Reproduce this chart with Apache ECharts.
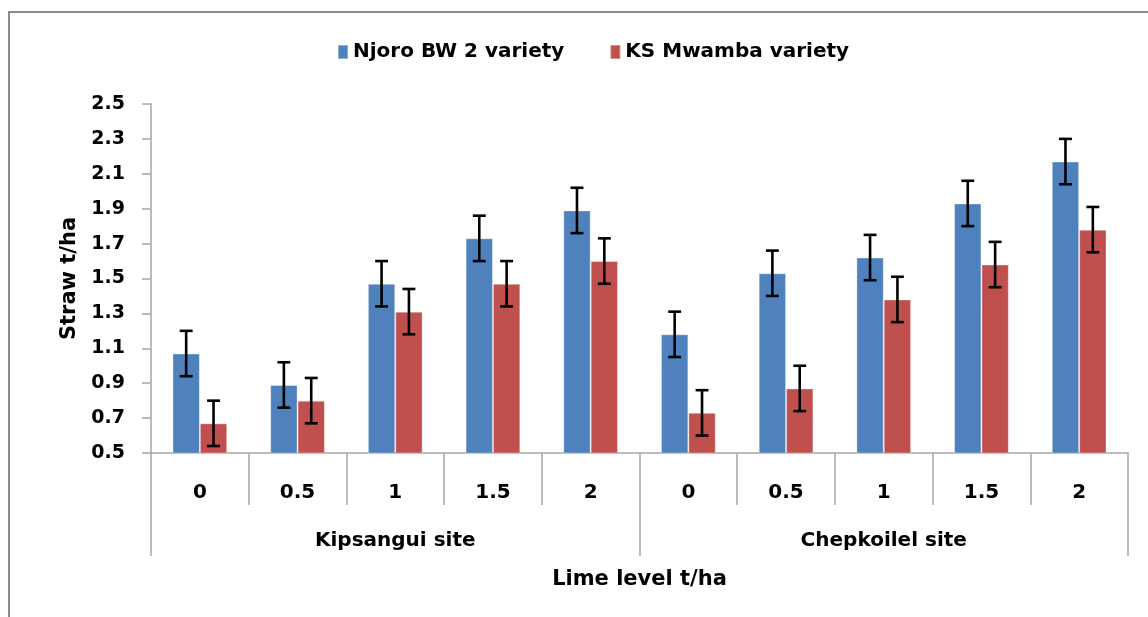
<!DOCTYPE html>
<html>
<head>
<meta charset="utf-8">
<script src="https://cdn.jsdelivr.net/npm/echarts@6/dist/echarts.min.js"></script>
<style>
html,body{margin:0;padding:0;background:#fff;}
#chart{width:1148px;height:617px;}
</style>
</head>
<body>
<div id="chart"></div>
<script>
const limeLevels = ['0', '0.5', '1', '1.5', '2', '0', '0.5', '1', '1.5', '2'];
const sites = ['Kipsangui site', 'Chepkoilel site'];
const seriesNames = ['Njoro BW 2 variety', 'KS Mwamba variety'];
const njoroValues = [1.07, 0.89, 1.47, 1.73, 1.89, 1.18, 1.53, 1.62, 1.93, 2.17];
const mwambaValues = [0.67, 0.80, 1.31, 1.47, 1.60, 0.73, 0.87, 1.38, 1.58, 1.78];
const njoroErrors = [0.13, 0.13, 0.13, 0.13, 0.13, 0.13, 0.13, 0.13, 0.13, 0.13];
const mwambaErrors = [0.13, 0.13, 0.13, 0.13, 0.13, 0.13, 0.13, 0.13, 0.13, 0.13];
const yTicks = { min: 0.5, max: 2.5, step: 0.2 };

const FONT = 'DejaVu Sans';
const BAR_FRAC = 0.28;

function errData(vals, errs) {
  return vals.map((v, i) => [i, v - errs[i], v + errs[i]]);
}
function errSeries(vals, errs, side) {
  return {
    type: 'custom',
    xAxisIndex: 0,
    yAxisIndex: 0,
    silent: true,
    z: 10,
    data: errData(vals, errs),
    renderItem: function (params, api) {
      const idx = api.value(0);
      const band = api.size([1, 0])[0];
      const shift = side * band * BAR_FRAC / 2;
      const cap = band * 0.066;
      const lo = api.coord([idx, api.value(1)]);
      const hi = api.coord([idx, api.value(2)]);
      const x = lo[0] + shift;
      const style = { stroke: '#000', lineWidth: 2.6 };
      return {
        type: 'group',
        children: [
          { type: 'line', shape: { x1: x, y1: lo[1], x2: x, y2: hi[1] }, style: style },
          { type: 'line', shape: { x1: x - cap, y1: lo[1], x2: x + cap, y2: lo[1] }, style: style },
          { type: 'line', shape: { x1: x - cap, y1: hi[1], x2: x + cap, y2: hi[1] }, style: style }
        ]
      };
    }
  };
}

const chart = echarts.init(document.getElementById('chart'), null, { renderer: 'canvas' });
const axisGray = '#a6a6a6';
const labelStyle = { color: '#000', fontFamily: FONT, fontWeight: 'bold', fontSize: 20 };

chart.setOption({
  backgroundColor: '#fff',
  animation: false,
  graphic: [{
    type: 'rect',
    shape: { x: 9, y: 12, width: 1300, height: 800 },
    style: { fill: 'none', stroke: '#8c8c8c', lineWidth: 2 },
    silent: true,
    z: -1
  }],
  legend: {
    top: 37,
    left: 332,
    itemWidth: 10,
    itemHeight: 14,
    itemGap: 45,
    icon: 'rect',
    textStyle: Object.assign({}, labelStyle),
    data: seriesNames
  },
  grid: { left: 151, right: 20, top: 104, bottom: 164, containLabel: false },
  xAxis: [{
    type: 'category',
    data: limeLevels,
    position: 'bottom',
    axisLine: { show: true, lineStyle: { color: axisGray, width: 1.5 } },
    axisTick: { show: true, interval: 0, length: 52, lineStyle: { color: axisGray, width: 1.5 } },
    axisLabel: Object.assign({ interval: 0, margin: 30 }, labelStyle),
    splitLine: { show: false }
  }, {
    type: 'category',
    data: sites,
    position: 'bottom',
    axisLine: { show: false },
    axisTick: { show: true, interval: 0, length: 103, lineStyle: { color: axisGray, width: 1.5 } },
    axisLabel: Object.assign({ interval: 0, margin: 78 }, labelStyle),
    splitLine: { show: false },
    name: 'Lime level t/ha',
    nameLocation: 'middle',
    nameGap: 116,
    nameTextStyle: Object.assign({}, labelStyle, { fontSize: 21 })
  }],
  yAxis: {
    type: 'value',
    min: yTicks.min,
    max: yTicks.max,
    interval: yTicks.step,
    axisLine: { show: true, lineStyle: { color: axisGray, width: 1.5 } },
    axisTick: { show: true, length: 9, lineStyle: { color: axisGray, width: 1.5 } },
    axisLabel: Object.assign({ margin: 26, formatter: v => v.toFixed(1) }, labelStyle, { fontSize: 19 }),
    splitLine: { show: false },
    name: 'Straw t/ha',
    nameLocation: 'middle',
    nameGap: 70,
    nameTextStyle: Object.assign({}, labelStyle, { fontSize: 21 })
  },
  series: [{
    name: seriesNames[0],
    type: 'bar',
    data: njoroValues,
    barWidth: (BAR_FRAC * 100) + '%',
    barGap: '0%',
    itemStyle: { color: '#4F81BD', borderColor: 'rgba(255,255,255,0.35)', borderWidth: 1 }
  }, {
    name: seriesNames[1],
    type: 'bar',
    data: mwambaValues,
    barWidth: (BAR_FRAC * 100) + '%',
    barGap: '0%',
    itemStyle: { color: '#C0504D', borderColor: 'rgba(255,255,255,0.35)', borderWidth: 1 }
  },
  errSeries(njoroValues, njoroErrors, -1),
  errSeries(mwambaValues, mwambaErrors, 1)
  ]
});
</script>
</body>
</html>
